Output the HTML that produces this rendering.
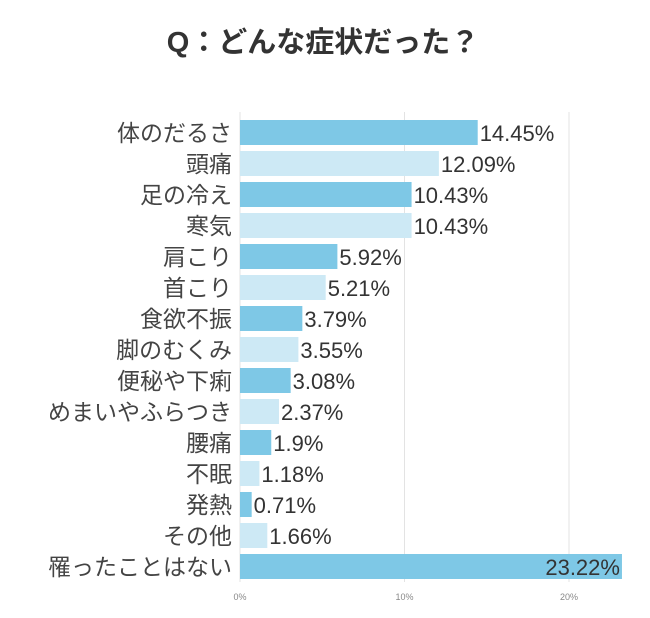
<!DOCTYPE html>
<html><head><meta charset="utf-8"><style>
body{margin:0;background:#fff;width:650px;height:613px;overflow:hidden;font-family:"Liberation Sans","Noto Sans CJK JP",sans-serif}
</style></head><body>
<svg width="650" height="613">
<text x="323" y="52" text-anchor="middle" font-size="29" font-weight="bold" fill="#333" font-family="Liberation Sans, Noto Sans CJK JP, sans-serif">Q：どんな症状だった？</text>
<g id="grid"></g><g id="bars"></g><g id="ticks"></g>
</svg>
<script>
const categories=["体のだるさ","頭痛","足の冷え","寒気","肩こり","首こり","食欲不振","脚のむくみ","便秘や下痢","めまいやふらつき","腰痛","不眠","発熱","その他","罹ったことはない"];
const values=[14.45,12.09,10.43,10.43,5.92,5.21,3.79,3.55,3.08,2.37,1.9,1.18,0.71,1.66,23.22];
const labels=["14.45%","12.09%","10.43%","10.43%","5.92%","5.21%","3.79%","3.55%","3.08%","2.37%","1.9%","1.18%","0.71%","1.66%","23.22%"];
const tickValues=[0,10,20];
const tickLabels=["0%","10%","20%"];
const NS="http://www.w3.org/2000/svg";
const x=v=>240+v*16.45;
const y=i=>120+i*31;
const bh=25;
function mk(tag,attrs,parent){const e=document.createElementNS(NS,tag);for(const k in attrs)e.setAttribute(k,attrs[k]);parent.appendChild(e);return e;}
const grid=document.getElementById('grid'),bars=document.getElementById('bars'),ticks=document.getElementById('ticks');
tickValues.forEach((t,i)=>{
  const l=mk('line',{x1:x(t),x2:x(t),y1:112,y2:582,stroke:'#e3e3e3','stroke-width':1},grid);
  
  
  const tx=mk('text',{x:x(t),y:600,'text-anchor':'middle','font-size':9,fill:'#888'},ticks);
  tx.textContent=tickLabels[i];
  
  
});
categories.forEach((c,i)=>{
  const r=mk('rect',{x:x(0),y:y(i),width:x(values[i])-x(0),height:bh,fill:i%2==0?'#7ec8e6':'#cde9f5'},bars);
  
  
  const lb=mk('text',{x:232,y:y(i)+21,'text-anchor':'end','font-size':23,fill:'#444'},bars);
  lb.textContent=c;
  
  
  const inside=values[i]>20;
  const vt=mk('text',{x:inside?x(values[i])-2:x(values[i])+2,y:y(i)+21,'text-anchor':inside?'end':'start','font-size':22,fill:'#333'},bars);
  vt.textContent=labels[i];
  
  
});
</script>
</body></html>
